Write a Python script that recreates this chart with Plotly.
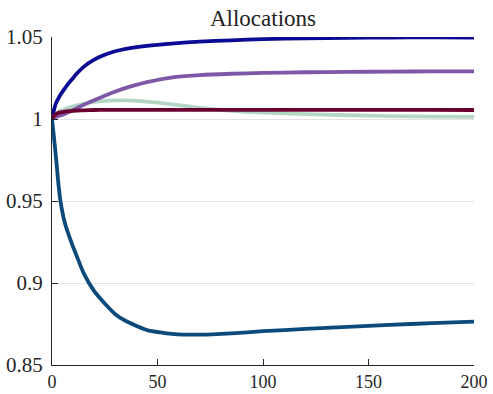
import plotly.graph_objects as go

x = [0, 1, 2, 3, 4, 6, 8, 10, 12, 15, 20, 25, 30, 35, 45, 58, 70, 85, 100, 120, 140, 160, 180, 200]

s_blue = [1.0, 1.006, 1.010, 1.0125, 1.0148, 1.0185, 1.022, 1.025, 1.028, 1.0318, 1.0362, 1.0392,
          1.0413, 1.0428, 1.0446, 1.0461, 1.0472, 1.048, 1.0487, 1.0492, 1.0495, 1.0497, 1.0498, 1.0497]
s_purple = [1.0, 1.0008, 1.0013, 1.0018, 1.0022, 1.003, 1.0042, 1.0055, 1.0068, 1.0087, 1.0115, 1.0142,
            1.0168, 1.019, 1.0225, 1.0255, 1.0268, 1.0276, 1.0281, 1.0285, 1.0287, 1.0289, 1.029, 1.0291]
s_green = [1.0, 1.002, 1.0035, 1.0044, 1.005, 1.006, 1.0069, 1.0077, 1.0084, 1.0093, 1.0104, 1.0111,
           1.0114, 1.0113, 1.0106, 1.0088, 1.0068, 1.005, 1.0039, 1.003, 1.0023, 1.0018, 1.0015, 1.0013]
s_red = [1.0, 1.002, 1.003, 1.0036, 1.004, 1.0045, 1.0048, 1.005, 1.0051, 1.0053, 1.0055, 1.0056,
         1.0056, 1.0056, 1.0056, 1.0056, 1.0056, 1.0056, 1.0056, 1.0056, 1.0056, 1.0056, 1.0056, 1.0055]
s_teal = [1.0, 0.988, 0.975, 0.961, 0.950, 0.937, 0.929, 0.922, 0.9155, 0.906, 0.895, 0.8875,
          0.881, 0.8768, 0.8713, 0.8688, 0.8685, 0.8693, 0.8706, 0.872, 0.8732, 0.8745, 0.8755, 0.8764]

series = [
    (s_green, "#b4d6c4"),
    (s_purple, "#7e58a6"),
    (s_blue, "#0b0b96"),
    (s_red, "#6a0030"),
    (s_teal, "#0b4a7a"),
]

y_ticks = [0.85, 0.9, 0.95, 1.0, 1.05]
y_labels = ["0.85", "0.9", "0.95", "1", "1.05"]
x_ticks = [0, 50, 100, 150, 200]

fig = go.Figure()
for ys, col in series:
    fig.add_trace(go.Scatter(x=x, y=ys, mode="lines",
                             line=dict(color=col, width=3.8, shape="spline", smoothing=0.5),
                             showlegend=False, hoverinfo="skip"))

font_family = "Liberation Serif, DejaVu Serif, serif"

fig.update_layout(
    width=493, height=394,
    margin=dict(l=52, r=19, t=37, b=29),
    paper_bgcolor="white", plot_bgcolor="white",
    title=dict(text="Allocations", x=0.5, xanchor="center", xref="paper",
               y=1 - 18/394, yanchor="middle",
               font=dict(family=font_family, size=23, color="#222")),
    font=dict(family=font_family, size=21, color="#262626"),
)
fig.update_xaxes(range=[0, 200], tickvals=x_ticks, ticks="inside", ticklen=6, tickwidth=1.2,
                 tickcolor="#262626", showline=True, linecolor="#262626", linewidth=1.3,
                 showgrid=False, zeroline=False, mirror=False, automargin=False,
                 ticklabelstandoff=0, tickfont=dict(size=18))
fig.update_yaxes(range=[0.85, 1.05], tickvals=y_ticks, ticktext=y_labels, ticks="inside",
                 ticklen=6, tickwidth=1.2, tickcolor="#262626", showline=True,
                 linecolor="#262626", linewidth=1.3, showgrid=True, gridcolor="#e2e2e2",
                 gridwidth=1, zeroline=False, mirror=False, automargin=False, ticklabelstandoff=4)

fig.write_html("out.html")
